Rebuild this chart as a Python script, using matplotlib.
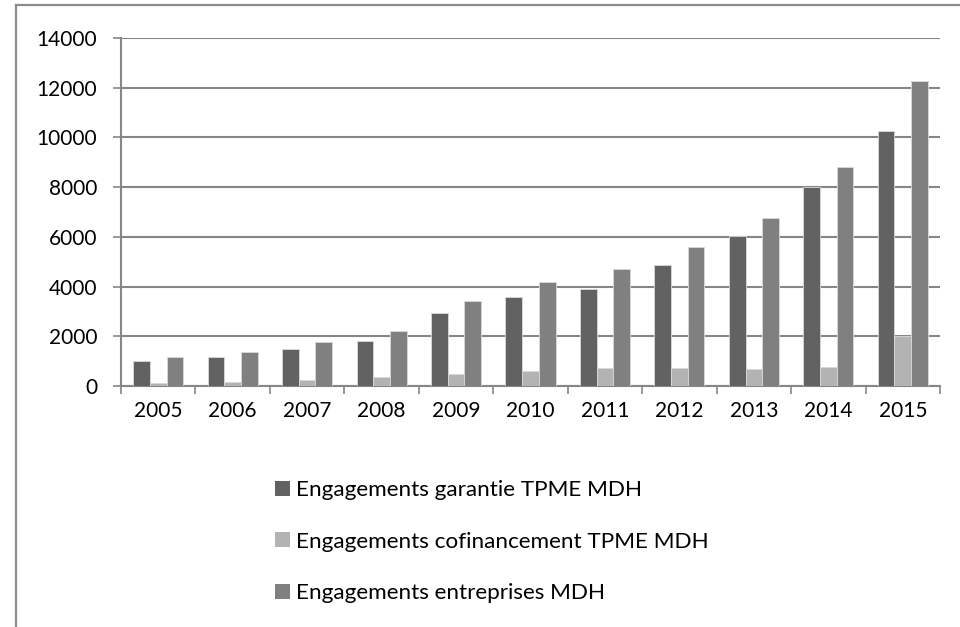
import numpy as np
import matplotlib.pyplot as plt
from matplotlib.lines import Line2D
from matplotlib.patches import Patch

years = ["2005", "2006", "2007", "2008", "2009", "2010", "2011", "2012", "2013", "2014", "2015"]
garantie = [1020, 1150, 1500, 1800, 2950, 3565, 3915, 4850, 6045, 8015, 10270]
cofinancement = [110, 160, 240, 375, 470, 600, 740, 710, 670, 780, 2000]
entreprises = [1180, 1355, 1780, 2210, 3430, 4180, 4690, 5590, 6745, 8820, 12280]

labels = ["Engagements garantie TPME MDH",
          "Engagements cofinancement TPME MDH",
          "Engagements entreprises MDH"]
colors = ["#626262", "#b3b3b3", "#808080"]

plt.rcParams['font.family'] = ['Lato', 'DejaVu Sans']
W, H = 960, 627
fig = plt.figure(figsize=(W / 100, H / 100), dpi=100)
ax = fig.add_axes([121 / W, 1 - 386 / H, (940 - 121) / W, (386 - 38) / H])

x = np.arange(len(years))
bw = 0.224
for i, (vals, c) in enumerate(zip([garantie, cofinancement, entreprises], colors)):
    ax.bar(x + (i - 1) * bw, vals, bw, color=c, edgecolor="#d9d9d9", linewidth=0.6, zorder=3)

grid_c = "#868686"
ax.set_xlim(-0.5, len(years) - 0.5)
ax.set_ylim(0, 14000)
ax.set_yticks(np.arange(0, 14001, 2000))
ax.yaxis.grid(True, color=grid_c, linewidth=1.5, zorder=0)
ax.set_xticks(np.arange(-0.5, len(years), 1.0))
ax.set_xticklabels([])
ax.set_xticks(x, minor=True)
ax.set_xticklabels(years, minor=True)
ax.tick_params(axis="x", which="major", length=6, width=1.2, color=grid_c, direction="out")
ax.tick_params(axis="x", which="minor", length=0, pad=11, labelsize=15)
ax.tick_params(axis="y", length=6, width=1.2, color=grid_c, direction="out", pad=11, labelsize=15)
for s in ["top", "right"]:
    ax.spines[s].set_visible(False)
for s in ["left", "bottom"]:
    ax.spines[s].set_color(grid_c)
    ax.spines[s].set_linewidth(1.5)

handles = [Patch(facecolor=c, edgecolor="none") for c in colors]
fig.legend(handles, labels, loc="upper left", bbox_to_anchor=(275 / W, 1 - 480 / H),
           frameon=False, fontsize=16.2, handlelength=0.65, handleheight=0.65,
           handletextpad=0.3, labelspacing=1.4, borderpad=0, borderaxespad=0)

# outer frame (left and top edges)
fig.add_artist(Line2D([16 / W, 16 / W], [0, 1 - 5 / H], color="#8c8c8c", linewidth=1.6))
fig.add_artist(Line2D([16 / W, 1], [1 - 5 / H, 1 - 5 / H], color="#8c8c8c", linewidth=1.6))

fig.savefig("out.png", dpi=100)
